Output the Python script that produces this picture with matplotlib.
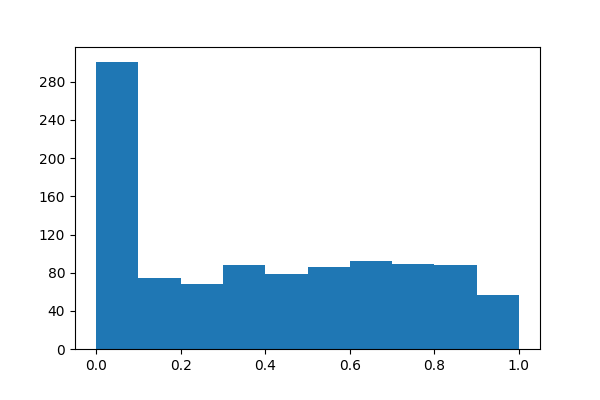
import numpy as np
import matplotlib.pyplot as plt

# bin edges and counts
bin_edges = [0.0, 0.1, 0.2, 0.3, 0.4, 0.5, 0.6, 0.7, 0.8, 0.9, 1.0]
counts = [301, 75, 68, 88, 79, 86, 92, 89, 88, 57]
y_ticks = [0, 40, 80, 120, 160, 200, 240, 280]

centers = [(a + b) / 2 for a, b in zip(bin_edges[:-1], bin_edges[1:])]

fig, ax = plt.subplots(figsize=(6, 4), dpi=100)
fig.subplots_adjust(left=0.125, right=0.9, top=0.882, bottom=0.127)

ax.hist(centers, bins=bin_edges, weights=counts, color='#1f77b4')
ax.set_yticks(y_ticks)
ax.set_xticks([0.0, 0.2, 0.4, 0.6, 0.8, 1.0])

fig.savefig('out.png')
